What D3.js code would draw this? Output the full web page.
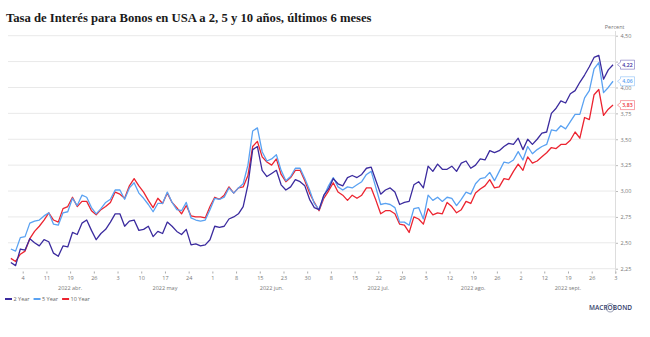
<!DOCTYPE html>
<html><head><meta charset="utf-8">
<script src="https://cdn.jsdelivr.net/npm/d3@7"></script>
<style>body{margin:0;background:#fff}svg{display:block}</style>
</head><body>
<svg id="c" width="650" height="337"></svg>
<script>
const title = "Tasa de Interés para Bonos en USA a 2, 5 y 10 años, últimos 6 meses";
const seriesNames = ["2 Year", "5 Year", "10 Year"];
const seriesColors = ["#3b2b9e", "#5aa2f2", "#ec2430"];
const dates = ["2022-03-30","2022-03-31","2022-04-01",
"2022-04-04","2022-04-05","2022-04-06","2022-04-07","2022-04-08",
"2022-04-11","2022-04-12","2022-04-13","2022-04-14",
"2022-04-18","2022-04-19","2022-04-20","2022-04-21","2022-04-22",
"2022-04-25","2022-04-26","2022-04-27","2022-04-28","2022-04-29",
"2022-05-02","2022-05-03","2022-05-04","2022-05-05","2022-05-06",
"2022-05-09","2022-05-10","2022-05-11","2022-05-12","2022-05-13",
"2022-05-16","2022-05-17","2022-05-18","2022-05-19","2022-05-20",
"2022-05-23","2022-05-24","2022-05-25","2022-05-26","2022-05-27",
"2022-05-31","2022-06-01","2022-06-02","2022-06-03",
"2022-06-06","2022-06-07","2022-06-08","2022-06-09","2022-06-10",
"2022-06-13","2022-06-14","2022-06-15","2022-06-16","2022-06-17",
"2022-06-21","2022-06-22","2022-06-23","2022-06-24",
"2022-06-27","2022-06-28","2022-06-29","2022-06-30","2022-07-01",
"2022-07-05","2022-07-06","2022-07-07","2022-07-08",
"2022-07-11","2022-07-12","2022-07-13","2022-07-14","2022-07-15",
"2022-07-18","2022-07-19","2022-07-20","2022-07-21","2022-07-22",
"2022-07-25","2022-07-26","2022-07-27","2022-07-28","2022-07-29",
"2022-08-01","2022-08-02","2022-08-03","2022-08-04","2022-08-05",
"2022-08-08","2022-08-09","2022-08-10","2022-08-11","2022-08-12",
"2022-08-15","2022-08-16","2022-08-17","2022-08-18","2022-08-19",
"2022-08-22","2022-08-23","2022-08-24","2022-08-25","2022-08-26",
"2022-08-29","2022-08-30","2022-08-31","2022-09-01","2022-09-02",
"2022-09-06","2022-09-07","2022-09-08","2022-09-09",
"2022-09-12","2022-09-13","2022-09-14","2022-09-15","2022-09-16",
"2022-09-19","2022-09-20","2022-09-21","2022-09-22","2022-09-23",
"2022-09-26","2022-09-27","2022-09-28","2022-09-29","2022-09-30"];
const y2 = [2.31,2.28,2.44,
2.43,2.54,2.50,2.47,2.53,
2.51,2.40,2.37,2.47,
2.46,2.60,2.58,2.69,2.72,
2.62,2.53,2.59,2.63,2.70,
2.78,2.78,2.66,2.71,2.72,
2.62,2.63,2.66,2.56,2.61,
2.59,2.70,2.66,2.61,2.58,
2.63,2.48,2.49,2.47,2.48,
2.53,2.66,2.65,2.66,
2.73,2.75,2.78,2.85,3.06,
3.40,3.43,3.20,3.14,3.17,
3.20,3.06,3.01,3.04,
3.11,3.09,3.05,2.92,2.84,
2.82,2.96,3.02,3.12,
3.07,3.05,3.13,3.15,3.13,
3.16,3.22,3.23,3.10,2.97,
3.01,3.03,2.99,2.87,2.89,
2.90,3.06,3.09,3.03,3.24,
3.19,3.26,3.21,3.21,3.24,
3.19,3.27,3.29,3.22,3.25,
3.31,3.30,3.39,3.37,3.39,
3.43,3.46,3.45,3.51,3.40,
3.50,3.45,3.50,3.56,
3.57,3.75,3.80,3.87,3.85,
3.94,3.97,4.05,4.12,4.20,
4.29,4.31,4.08,4.17,4.22];
const y5 = [2.44,2.42,2.55,
2.56,2.69,2.71,2.72,2.76,
2.79,2.68,2.67,2.79,
2.80,2.93,2.86,2.96,2.94,
2.84,2.78,2.83,2.89,2.92,
3.01,3.01,2.92,3.03,3.08,
2.98,2.93,2.87,2.80,2.88,
2.88,2.99,2.89,2.82,2.81,
2.89,2.74,2.72,2.71,2.72,
2.82,2.93,2.92,2.94,
3.03,2.98,3.03,3.07,3.25,
3.58,3.61,3.38,3.29,3.31,
3.35,3.20,3.10,3.14,
3.22,3.22,3.12,3.01,2.88,
2.82,2.95,3.05,3.13,
3.04,3.01,3.04,3.03,3.06,
3.09,3.16,3.19,3.03,2.87,
2.88,2.87,2.84,2.70,2.70,
2.67,2.83,2.84,2.73,2.96,
2.91,2.94,2.90,2.94,2.93,
2.86,2.92,2.99,2.97,3.07,
3.12,3.13,3.18,3.10,3.19,
3.28,3.27,3.30,3.38,3.30,
3.43,3.36,3.40,3.43,
3.45,3.59,3.58,3.63,3.60,
3.67,3.74,3.74,3.90,3.97,
4.18,4.24,3.95,4.00,4.06];
const y10 = [2.35,2.32,2.39,
2.42,2.54,2.61,2.66,2.72,
2.79,2.72,2.70,2.83,
2.85,2.94,2.85,2.90,2.90,
2.81,2.77,2.82,2.85,2.89,
2.99,2.97,2.93,3.05,3.12,
3.05,2.99,2.91,2.84,2.93,
2.88,2.98,2.89,2.84,2.78,
2.86,2.76,2.75,2.75,2.74,
2.85,2.94,2.92,2.96,
3.04,2.98,3.03,3.04,3.15,
3.43,3.48,3.33,3.28,3.25,
3.31,3.16,3.09,3.13,
3.20,3.20,3.10,2.98,2.89,
2.81,2.93,3.00,3.08,
2.99,2.96,2.91,2.96,2.93,
2.96,3.03,3.03,2.91,2.78,
2.81,2.81,2.78,2.68,2.67,
2.60,2.75,2.73,2.68,2.83,
2.77,2.79,2.78,2.89,2.85,
2.79,2.82,2.90,2.88,2.98,
3.02,3.05,3.11,3.03,3.04,
3.12,3.11,3.19,3.26,3.20,
3.33,3.27,3.29,3.33,
3.37,3.42,3.41,3.45,3.45,
3.49,3.57,3.51,3.71,3.69,
3.93,3.98,3.73,3.79,3.83];
const yTicks = [2.25, 2.50, 2.75, 3.00, 3.25, 3.50, 3.75, 4.00, 4.25, 4.50];
// x tick labels: every 5th observation starting 2022-04-04 (last one = 2022-10-03)
const xTickLabels = ["4","11","19","26","3","10","17","24","1","8","15","23","30","8","15","22","29","5","12","19","26","2","12","19","26","3"];
const xTickStart = 3;   // observation index of first tick (2022-04-04)
const xTickStep = 5;
const monthLabels = ["2022 abr.","2022 may","2022 jun.","2022 jul.","2022 ago.","2022 sept."];
const monthAt = [13, 33, 55.5, 78, 98, 118]; // observation index
const yLabelText = "Percent";
const brand = "MACROBOND";

const svg = d3.select("#c");
const font = "'Open Sans', 'Liberation Sans', sans-serif";
const lastTick = xTickStart + xTickStep * (xTickLabels.length - 1);
const x = d3.scaleLinear().domain([xTickStart, lastTick]).range([22.7, 615.4]);
const y = d3.scaleLinear().domain([2.25, 4.5]).range([268.7, 35.7]);
const axisX = 615.5;
const series = [y2, y5, y10];
const lastVals = series.map(s => s[s.length - 1]);

// title
const t = svg.append("text").attr("x", 6).attr("y", 22)
  .attr("font-family", "'Liberation Serif','DejaVu Serif',serif")
  .attr("font-weight", "bold").attr("font-size", 13).attr("fill", "#1a1a1a").text(title);
const tl = t.node().getComputedTextLength();
t.attr("font-size", 13 * 366 / tl);

// gridlines
svg.append("g").selectAll("line").data(yTicks).join("line")
  .attr("x1", 8).attr("x2", axisX).attr("y1", d => y(d)).attr("y2", d => y(d))
  .attr("stroke", "#e9e9e9").attr("stroke-width", 1);

// right axis (labels hidden behind an end-value box are not drawn, as in the source)
const hidden = d => lastVals.some(v => Math.abs(y(v) - y(d)) < 4);
const ya = svg.append("g").attr("transform", `translate(${axisX},0)`)
  .call(d3.axisRight(y).tickValues(yTicks).tickSize(2.5).tickPadding(2.5)
    .tickFormat(d => hidden(d) ? "" : d3.format(".2f")(d).replace(".", ",")));
ya.select(".domain").remove();
ya.selectAll("line").attr("stroke", "#bbb");
ya.selectAll("text").attr("font-family", font).attr("font-size", 5.5).attr("fill", "#777");
svg.append("line").attr("x1", axisX).attr("x2", axisX).attr("y1", 31).attr("y2", 274)
  .attr("stroke", "#ddd").attr("stroke-width", 1);
svg.append("text").attr("x", axisX + 9).attr("y", 29).attr("text-anchor", "end")
  .attr("font-family", font).attr("font-size", 5.5).attr("fill", "#777").text(yLabelText);

// bottom axis
const tickIdx = xTickLabels.map((_, i) => xTickStart + i * xTickStep);
const xa = svg.append("g").attr("transform", "translate(0,271.5)")
  .call(d3.axisBottom(x).tickValues(tickIdx).tickSize(2).tickPadding(3)
    .tickFormat((d, i) => xTickLabels[i]));
xa.select(".domain").remove();
xa.selectAll("line").attr("stroke", "#aaa");
xa.selectAll("text").attr("font-family", font).attr("font-size", 5.5).attr("fill", "#777");
svg.append("g").selectAll("text").data(monthLabels).join("text")
  .attr("x", (d, i) => x(monthAt[i])).attr("y", 290).attr("text-anchor", "middle")
  .attr("font-family", font).attr("font-size", 5.5).attr("fill", "#777").text(d => d);

// lines (10 Year first, 2 Year on top)
const line = d3.line().x((d, i) => x(i + 0.5)).y(d => y(d));
const order = [2, 1, 0];
svg.append("g").selectAll("path").data(order).join("path")
  .attr("d", k => line(series[k])).attr("fill", "none")
  .attr("stroke", k => seriesColors[k]).attr("stroke-width", 1.3)
  .attr("stroke-linejoin", "round");

// end value labels
const lab = svg.append("g");
series.forEach((s, i) => {
  const v = lastVals[i];
  const g = lab.append("g").attr("transform", `translate(${axisX + 2},${y(v)})`);
  g.append("path").attr("d", "M0,0 L3,-2.5 L3,-4.5 L17,-4.5 L17,4.5 L3,4.5 L3,2.5 Z")
    .attr("fill", "#fff").attr("stroke", seriesColors[i]).attr("stroke-width", 0.6).attr("stroke-opacity", 0.7);
  g.append("text").attr("x", 10).attr("y", 2).attr("text-anchor", "middle")
    .attr("font-family", font).attr("font-size", 5.2).attr("font-weight", 600)
    .attr("fill", seriesColors[i]).text(d3.format(".2f")(v).replace(".", ","));
});

// legend
let lx = 5;
seriesNames.forEach((n, i) => {
  svg.append("line").attr("x1", lx).attr("x2", lx + 7).attr("y1", 299).attr("y2", 299)
    .attr("stroke", seriesColors[i]).attr("stroke-width", 2);
  const tt = svg.append("text").attr("x", lx + 8.5).attr("y", 301).attr("font-family", font)
    .attr("font-size", 5.5).attr("fill", "#666").text(n);
  lx += 8.5 + tt.node().getComputedTextLength() + 4;
});

// brand
const b = svg.append("text").attr("x", 632).attr("y", 310).attr("text-anchor", "end")
  .attr("font-family", font).attr("font-size", 6.5).attr("font-weight", 600)
  .attr("fill", "#34406a").text(brand);
try {
  const ext = b.node().getExtentOfChar(4);
  svg.append("circle").attr("cx", ext.x + ext.width / 2).attr("cy", ext.y + ext.height / 2 + 0.3)
    .attr("r", 4.2).attr("fill", "none").attr("stroke", "#34406a").attr("stroke-width", 0.5);
} catch (e) {}
</script>
</body></html>
